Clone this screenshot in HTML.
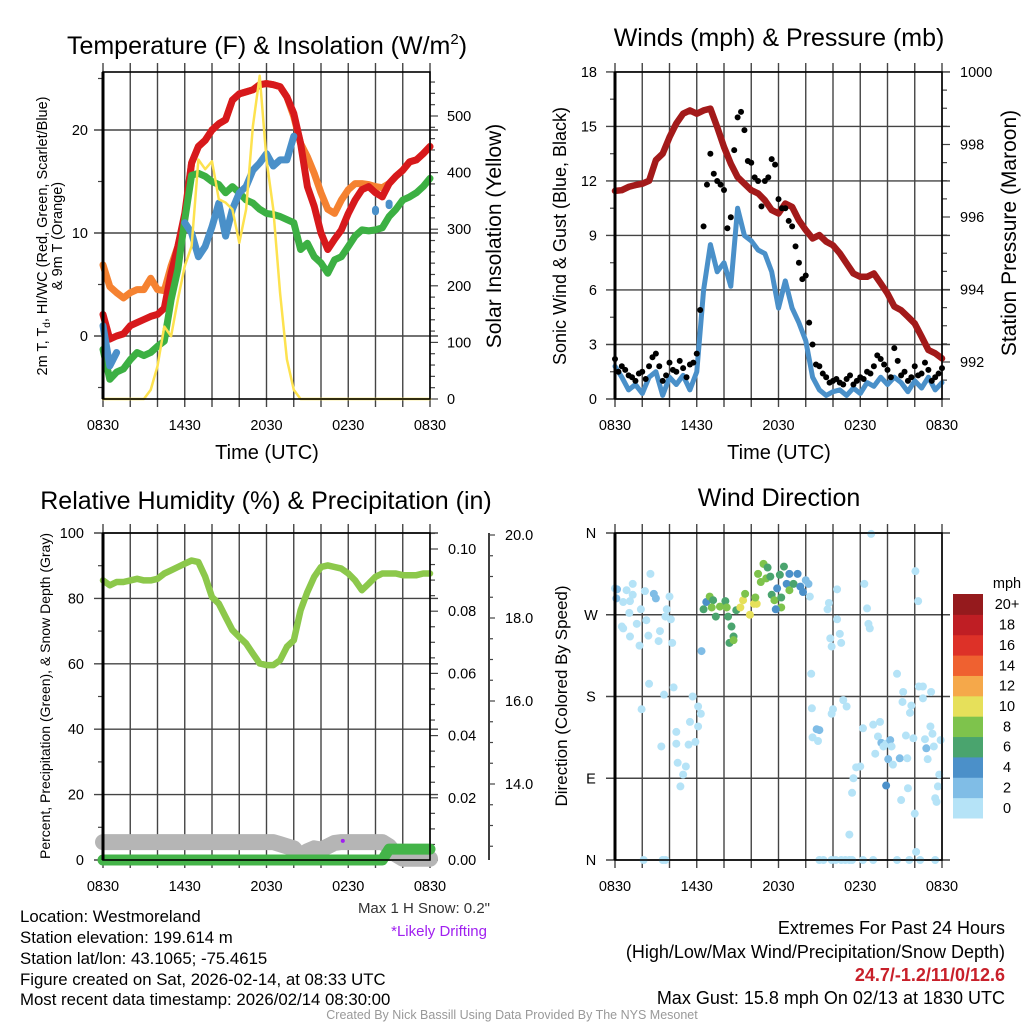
<!DOCTYPE html>
<html><head><meta charset="utf-8"><title>Mesonet Station Chart</title>
<style>html,body{margin:0;padding:0;background:#fff;}svg{display:block;font-family:"Liberation Sans",sans-serif;}</style>
</head><body>
<svg id="s" width="1024" height="1024" viewBox="0 0 1024 1024" xmlns="http://www.w3.org/2000/svg">
<rect x="0" y="0" width="1024" height="1024" fill="#fff"/>
<g id="tl"></g>
<g id="tr"></g>
<g id="bl"></g>
<g id="br"></g>

<text x="267" y="54" font-size="25" text-anchor="middle">Temperature (F) &amp; Insolation (W/m<tspan font-size="15" dy="-10">2</tspan><tspan dy="10">)</tspan></text>
<text x="779" y="46" font-size="25" text-anchor="middle">Winds (mph) &amp; Pressure (mb)</text>
<text x="266" y="509" font-size="25" text-anchor="middle">Relative Humidity (%) &amp; Precipitation (in)</text>
<text x="779" y="506" font-size="25" text-anchor="middle">Wind Direction</text>

<text transform="translate(47,236) rotate(-90)" font-size="14.5" text-anchor="middle">2m T, T<tspan font-size="10" dy="3">d</tspan><tspan dy="-3">, HI/WC (Red, Green, Scarlet/Blue)</tspan></text>
<text transform="translate(62,236) rotate(-90)" font-size="14.5" text-anchor="middle">&amp; 9m T (Orange)</text>
<text transform="translate(501,236) rotate(-90)" font-size="21" text-anchor="middle">Solar Insolation (Yellow)</text>
<text x="267" y="459" font-size="20" text-anchor="middle">Time (UTC)</text>

<text transform="translate(566,236) rotate(-90)" font-size="18" text-anchor="middle">Sonic Wind &amp; Gust (Blue, Black)</text>
<text transform="translate(1016,233) rotate(-90)" font-size="21" text-anchor="middle">Station Pressure (Maroon)</text>
<text x="779" y="459" font-size="20" text-anchor="middle">Time (UTC)</text>

<text transform="translate(50,696) rotate(-90)" font-size="14" text-anchor="middle">Percent, Precipitation (Green), &amp; Snow Depth (Gray)</text>
<text transform="translate(567,696) rotate(-90)" font-size="17" text-anchor="middle">Direction (Colored By Speed)</text>

<text x="490" y="913" font-size="15" text-anchor="end" fill="#333">Max 1 H Snow: 0.2"</text>
<text x="487" y="936" font-size="15" text-anchor="end" fill="#a020f0">*Likely Drifting</text>

<g font-size="16.8">
<text x="20" y="922">Location: Westmoreland</text>
<text x="20" y="943">Station elevation: 199.614 m</text>
<text x="20" y="964">Station lat/lon: 43.1065; -75.4615</text>
<text x="20" y="985">Figure created on Sat, 2026-02-14, at 08:33 UTC</text>
<text x="20" y="1005">Most recent data timestamp: 2026/02/14 08:30:00</text>
</g>
<g font-size="18" text-anchor="end">
<text x="1005" y="934">Extremes For Past 24 Hours</text>
<text x="1005" y="958">(High/Low/Max Wind/Precipitation/Snow Depth)</text>
<text x="1005" y="981" fill="#c8202a" font-weight="bold">24.7/-1.2/11/0/12.6</text>
<text x="1005" y="1004">Max Gust: 15.8 mph On 02/13 at 1830 UTC</text>
</g>
<text x="512" y="1019" font-size="12.5" text-anchor="middle" fill="#999">Created By Nick Bassill Using Data Provided By The NYS Mesonet</text>
</svg>
<script>
// ---- data (half-hourly from 0830 UTC) ----
const timeLabels = ["0830","1430","2030","0230","0830"];
const tempRed = [2.1,-0.3,0,0.2,1,1.3,1.6,1.9,2.1,2.7,6.1,8.7,11.9,16.8,18.4,19,20,20.6,21,22.9,23.5,23.7,23.9,24.4,24.5,24.4,24.2,23.2,21.6,18.7,14.5,12.6,10,8.4,9.4,10.3,11.9,13.2,14.2,14.5,13.9,13.5,14.8,15.5,16.1,16.9,17.1,17.7,18.4];
const temp9m = [6.9,4.8,4.2,3.7,4.2,4.5,4.5,5.6,4.5,4.4,6.8,8.7,11.6,16.8,18.4,19,20,20.6,21,22.9,23.5,23.7,23.9,24.4,24.5,24.4,24.2,23.2,21.3,18.7,17.4,15.8,13.9,12.3,11.9,13.2,14.2,14.8,14.8,14.7,14.5,14.4,14.8,15.5,16.1,16.9,17.1,17.7,18.4];
const dewGreen = [-1.3,-4.2,-3.5,-3.2,-2.3,-1.6,-1.9,-1.6,-1,-0.5,3.5,6.5,11.3,15.6,15.8,15.5,15,14.7,13.9,14.5,13.9,13.2,12.9,12.3,11.9,11.8,11.6,11.3,11,8.4,9,7.7,7.1,6.1,7.4,7.7,8.7,9.7,10.3,10.2,10.3,10.5,11.6,12.3,13.2,13.5,13.9,14.5,15.3];
const windChill = [1,-2.9,-1.6,null,null,null,null,null,null,null,null,null,11,10,7.7,8.7,10.6,12.9,9.7,12.3,13.9,14.5,16.1,16.8,17.7,16.5,17.1,17.1,19.4,null,null,null,null,null,null,null,null,null,null,null,12.3,null,12.9,null,null,null,null,null,null];
const solar = [0,0,0,0,0,0,0,16,58,128,111,176,235,270,423,406,420,353,347,335,276,335,482,571,423,335,187,70,16,0,0,0,0,0,0,0,0,0,0,0,0,0,0,0,0,0,0,0,0];
const windSpeed = [1.8,1.2,0.5,0.8,0.3,1.2,1.5,0.2,1.2,0.8,1.3,0.5,1.5,6,8.5,7,7.5,6.2,10.5,9,8.7,8.2,8,7,5,6.5,5,4.2,3.2,1.2,0.5,0.2,0.4,0.5,0.2,0.6,0.3,0.9,0.7,1.2,0.8,1.2,0.9,0.4,1.0,0.6,1.2,0.5,0.9];
const gustA = [2.2,1.8,1.3,1.0,1.5,1.8,2.5,1.0,2.0,1.5,1.7,1.9,2.5,9.5,13.5,12,11.5,10,15.5,14.8,13,12,12,13.2,11,10.5,9.5,7.5,6.8,3,1.8,1.2,1.0,0.9,1.1,0.8,1.2,1.5,1.8,2.2,1.6,2.8,1.3,1.0,1.8,1.4,1.6,1.2,1.7];
const gustB = [1.5,1.6,1.2,1.4,1.1,2.3,1.8,1.3,1.6,2.1,1.2,2.0,4.9,11.8,12.4,11.8,9.4,13.7,15.8,13.1,12.2,10.6,12.2,12.9,10.5,9.8,8.4,6.6,4.2,1.9,1.4,0.9,1.1,0.8,1.3,1.0,1.1,1.4,2.4,1.9,1.2,2.1,1.5,1.2,1.3,2.0,1.0,1.4];
const pressure = [996.72,996.74,996.83,996.88,996.92,997.0,997.57,997.75,998.2,998.58,998.85,998.94,998.85,998.94,998.99,998.48,997.93,997.47,997.1,996.92,996.74,996.65,996.46,996.19,996.1,996.37,996.28,995.91,995.64,995.41,995.5,995.32,995.22,995.0,994.72,994.44,994.35,994.35,994.44,994.17,993.89,993.53,993.43,993.25,993.06,992.7,992.33,992.24,992.1];
const relHum = [85.5,84,85,85,85.5,86,85.5,85.5,86,87.6,88.6,89.6,90.6,91.6,91.1,86.6,80.4,78.4,74.3,70.3,68.2,66.2,63.1,60.1,59.6,59.6,61.1,65.2,67.2,76.4,82,86.6,89.6,90.1,89.6,89.1,87.6,85.5,82.5,84.5,86.6,87.6,87.6,87.6,87.1,87.1,87.1,87.6,87.6];
const precip = [0,0,0,0,0,0,0,0,0,0,0,0,0,0,0,0,0,0,0,0,0,0,0,0,0,0,0,0,0,0,0,0,0,0,0,0,0,0,0,0,0,0,0.0035,0.0035,0.0035,0.0035,0.0035,0.0035,0.0035];
const snowDepth = [12.6,12.6,12.6,12.6,12.6,12.6,12.6,12.6,12.6,12.6,12.6,12.6,12.6,12.6,12.6,12.6,12.6,12.6,12.6,12.6,12.6,12.6,12.6,12.6,12.6,12.6,12.55,12.5,12.45,12.25,12.38,12.45,12.42,12.5,12.58,12.6,12.6,12.6,12.6,12.6,12.6,12.6,12.5,12.3,12.2,12.2,12.2,12.2,12.2];
const driftHour = [17.6];
const driftValue = [12.63];
// wind direction observations
const dirHours = [0,0.15,0.1,0.6,0.85,1.3,1.3,1.1,1.05,0.5,0.6,1.1,1.6,1.8,1.9,2.2,2.6,2.3,2.45,3.3,3.2,2.85,3.0,3.8,3.7,4.0,4.2,4.1,2.5,1.95,3.6,4.3,3.4,4.5,4.5,4.6,5.0,4.8,5.2,5.4,5.5,5.7,6.1,6.3,5.9,6.1,2.1,3.5,3.7,6.35,
 6.5,6.7,6.95,7.2,7.1,7.4,7.7,8.1,8.2,8.3,8.55,8.7,8.4,8.7,8.9,9.2,9.4,9.55,9.9,10.2,10.4,10.3,10.5,10.9,10.7,11.1,11.4,11.2,11.5,11.7,11.9,12.1,12.2,12.2,11.8,12.4,12.6,12.8,12.8,13.1,13.4,13.6,13.8,14.0,14.2,14.3,
 14.4,14.45,14.5,14.8,15,14.9,15.6,15.7,16.3,16.3,15.8,15.9,16.5,16.6,16.0,15.9,16.75,17.0,17.7,18.0,17.5,17.4,17.2,18.2,18.3,18.5,18.6,18.7,18.8,18.95,19.1,19.3,19.45,19.55,19.7,19.9,20.2,20.05,19.9,20.3,20.4,20.7,20.9,21,21.1,21.15,21.35,21.45,21.5,21.65,21.75,21.9,22,22.05,22.25,22.3,22.6,22.6,22.75,22.85,22.95,23.15,23.2,23.3,23.4,23.5,23.6,23.7,23.8,23.9,22.1,
 15.0,15.3,15.9,16.2,16.6,16.9,17.2,17.4,18.2,18.95,20.7,21.6,22.4,23.5];
const dirDegrees = [299,298,288,284,297,292,304,285,272,257,255,246,260,236,276,296,315,264,247,252,241,293,288,276,268,290,239,265,194,166,182,190,125,128,141,107,94,81,103,127,152,180,169,161,130,147,0,0,0,230,
 276,284,290,286,278,268,279,285,278,268,257,246,239,242,275,278,286,293,270,282,282,289,315,326,306,310,312,322,292,286,299,314,289,278,276,323,304,315,297,304,315,301,295,308,304,290,
 205,167,135,144,143,131,276,283,298,265,244,235,249,239,166,161,176,169,102,103,90,74,28,145,304,277,260,255,359,149,117,136,152,129,125,128,132,111,82,125,105,205,112,66,174,185,137,112,79,162,170,134,51,318,285,191,178,191,133,123,111,147,185,139,125,68,64,81,94,132,9,
 0,0,0,0,0,0,0,0,0,0,0,0,0,0];
const dirSpeeds = [1,3,3,1,1,1,1,1,1,1,1,1,1,1,1,1,1,1,1,1,1,3,3,1,1,1,1,1,1,1,1,1,1,1,1,1,1,1,1,1,1,1,1,1,1,1,1,1,1,3,
 7,5,9,7,9,7,9,7,9,7,7,7,7,9,7,11,11,9,11,11,11,9,9,9,9,9,7,7,7,9,5,7,7,9,5,7,5,5,9,7,5,5,5,3,3,1,
 1,1,1,3,3,1,1,1,1,1,1,1,1,1,1,1,1,1,1,1,1,1,1,1,1,1,1,1,1,1,1,1,1,3,1,1,3,3,5,1,1,1,3,1,1,1,1,1,1,1,1,1,1,1,1,1,1,1,1,3,1,1,1,1,1,1,1,1,1,1,1,
 1,1,1,1,1,1,1,1,1,1,1,1,1,1];
const speedLabels = ["0","2","4","6","8","10","12","14","16","18","20+"];
const speedColors = ["#b5e3f7","#80bde6","#4b90c9","#4aa46e","#7ec34c","#e6e05a","#f5a84a","#ef6130","#dd3128","#bf1e24","#951a1d"];

// ---- helpers ----
const NS = "http://www.w3.org/2000/svg";
function mk(tag, attrs, parent){const e=document.createElementNS(NS,tag);for(const k in attrs)e.setAttribute(k,attrs[k]);parent.appendChild(e);return e;}
const times = [];
for(let i=0;i<=48;i++) times.push(i*0.5);
function xScale(x0){return h => x0 + h*327/24;}
function pathFrom(xs, ys){let d="",pen=false;for(let i=0;i<xs.length;i++){if(ys[i]===null){pen=false;continue;}
  if(!pen){d+="M"+xs[i].toFixed(1)+" "+ys[i].toFixed(1);pen=true;
    const nxt=ys[i+1];if(nxt===null||nxt===undefined)d+=" l0 2.5";}
  else d+=" L"+xs[i].toFixed(1)+" "+ys[i].toFixed(1);}return d;}
function series(g, X, Y, vals, color, w, name){
  const xs=times.map(X), ys=vals.map(v=>v===null?null:Y(v));
  const p=mk("path",{d:pathFrom(xs,ys),fill:"none",stroke:color,"stroke-width":w,"stroke-linejoin":"round","stroke-linecap":"round"},g);
  
  
  return p;}
function grid(g, x0, yTop, yBot, X, hLines){
  for(let h=0;h<=24;h+=2){
    const l=mk("line",{x1:X(h),x2:X(h),y1:yTop-9,y2:yBot+8,stroke:"#444","stroke-width":1.4},g);
    
    
  }
  hLines.forEach(y=>{
    const l=mk("line",{x1:x0-9,x2:x0+335,y1:y,y2:y,stroke:"#444","stroke-width":1.4},g);
    
    
  });
}
function xLabels(g, X, y){
  timeLabels.forEach((t,i)=>{
    const e=mk("text",{x:X(i*6),y:y,"font-size":14.5,"text-anchor":"middle"},g);e.textContent=t;
    
    
  });
}
function ticks(g, x, ys, len){
  ys.forEach(y=>{
    const l=mk("line",{x1:x,x2:x+len,y1:y,y2:y,stroke:"#444","stroke-width":1.2},g);
    
    
  });
}
function label(g, x, y, txt, anchor){
  const e=mk("text",{x:x,y:y,"font-size":14.5,"text-anchor":anchor},g);e.textContent=txt;
  
  
}
function frame(g, x0, y0){
  const r=mk("rect",{x:x0,y:y0,width:327,height:327,fill:"none",stroke:"#000","stroke-width":1.6},g);
  
  
  const l=mk("line",{x1:x0,x2:x0,y1:y0,y2:y0+327,stroke:"#000","stroke-width":3},g);
  
  
}

// ---- Top-left: temperature ----
(function(){
  const g=document.getElementById("tl"), X=xScale(103);
  const Y=v=>336-v*10.3, YS=w=>399-w*0.566;
  grid(g,103,72,399,X,[0,10,20].map(Y));
  [-5,5,15,25].forEach(v=>ticks(g,98,[Y(v)],5));
  for(let w=0;w<=560;w+=20) ticks(g,430,[YS(w)],w%100===0?8:5);
  [0,10,20].forEach(v=>label(g,88,Y(v)+5,String(v),"end"));
  [0,100,200,300,400,500].forEach(w=>label(g,447,YS(w)+5,String(w),"start"));
  series(g,X,Y,temp9m,"#f58231",7,"temp-9m-line");
  series(g,X,Y,tempRed,"#d7191c",7,"temp-2m-line");
  series(g,X,Y,dewGreen,"#3cb043",7,"dewpoint-line");
  series(g,X,Y,windChill,"#4a90c9",7,"windchill-line");
  series(g,X,YS,solar,"#fde24f",2.5,"insolation-line");
  frame(g,103,72);
  xLabels(g,X,430);
})();

// ---- Top-right: winds & pressure ----
(function(){
  const g=document.getElementById("tr"), X=xScale(615);
  const Y=v=>399-v*18.17, YP=p=>72+(1000-p)*36.25;
  grid(g,615,72,399,X,[0,3,6,9,12,15,18].map(Y));
  for(let v=1.5;v<18;v+=3) ticks(g,610,[Y(v)],5);
  for(let p=991.5;p<=1000.01;p+=0.5) ticks(g,942,[YP(p)],Math.abs(p%2)<0.01?8:5);
  [0,3,6,9,12,15,18].forEach(v=>label(g,597,Y(v)+5,String(v),"end"));
  [992,994,996,998,1000].forEach(p=>label(g,960,YP(p)+5,String(p),"start"));
  series(g,X,YP,pressure,"#a31a1a",6.5,"pressure-line");
  series(g,X,Y,windSpeed,"#4a90c9",5,"wind-speed-line");
  gustA.forEach((v,i)=>{const c=mk("circle",{cx:X(times[i]),cy:Y(v),r:3,fill:"#000"},g);
    
    });
  gustB.forEach((v,i)=>{const c=mk("circle",{cx:X(times[i]+0.25),cy:Y(v),r:3,fill:"#000"},g);
    
    });
  frame(g,615,72);
  xLabels(g,X,430);
})();

// ---- Bottom-left: humidity, precip, snow ----
(function(){
  const g=document.getElementById("bl"), X=xScale(103);
  const Y=v=>860-v*3.27, YPr=v=>860-v*3110, YSn=v=>535-(v-20)*41.5;
  grid(g,103,533,860,X,[0,20,40,60,80,100].map(Y));
  for(let v=10;v<100;v+=20) ticks(g,98,[Y(v)],5);
  for(let k=0;k<=21;k++){const v=k*0.005;ticks(g,430,[YPr(v)],k%4===0?8:5);}
  [0,20,40,60,80,100].forEach(v=>label(g,84,Y(v)+5,String(v),"end"));
  [0,0.02,0.04,0.06,0.08,0.10].forEach(v=>label(g,448,YPr(v)+5,v.toFixed(2),"start"));
  const ax=mk("line",{x1:489,x2:489,y1:533,y2:860,stroke:"#000","stroke-width":1.5},g);
  
  
  for(let v=12.5;v<=20.01;v+=0.5) ticks(g,489,[YSn(v)],Math.abs(v%2)<0.01?6:4);
  [14,16,18,20].forEach(v=>label(g,505,YSn(v)+5,v.toFixed(1),"start"));
  series(g,X,Y,relHum,"#8cc84b",6.5,"humidity-line");
  series(g,X,YSn,snowDepth,"#b5b5b5",16,"snow-depth-line");
  series(g,X,YPr,precip,"#44b449",11,"precipitation-line");
  driftHour.forEach((h,i)=>{const c=mk("circle",{cx:X(h),cy:YSn(driftValue[i]),r:2,fill:"#a020f0"},g);
    
    });
  frame(g,103,533);
  xLabels(g,X,891);
})();

// ---- Bottom-right: wind direction ----
(function(){
  const g=document.getElementById("br"), X=xScale(615);
  const Y=d=>860-d*327/360;
  grid(g,615,533,860,X,[0,90,180,270,360].map(Y));
  ["N","E","S","W","N"].forEach((t,i)=>{const e=mk("text",{x:591,y:Y(i*90)+5,"font-size":14.5,"text-anchor":"middle"},g);e.textContent=t;
    
    });
  dirHours.forEach((h,i)=>{
    const bin=Math.min(10,Math.floor(dirSpeeds[i]/2));
    const c=mk("circle",{cx:X(h),cy:Y(dirDegrees[i]),r:4,fill:speedColors[bin]},g);
    
    
  });
  frame(g,615,533);
  xLabels(g,X,891);
  const bh=224/11;
  speedColors.forEach((col,i)=>{
    const r=mk("rect",{x:953,y:818-(i+1)*bh,width:30,height:bh+0.5,fill:col},g);
    
    
    const t=mk("text",{x:1007,y:818-(i+0.5)*bh+5,"font-size":14.5,"text-anchor":"middle"},g);t.textContent=speedLabels[i];
    
    
  });
  const u=mk("text",{x:1007,y:588,"font-size":14.5,"text-anchor":"middle"},g);u.textContent="mph";
  
  
})();
</script>
</body></html>
